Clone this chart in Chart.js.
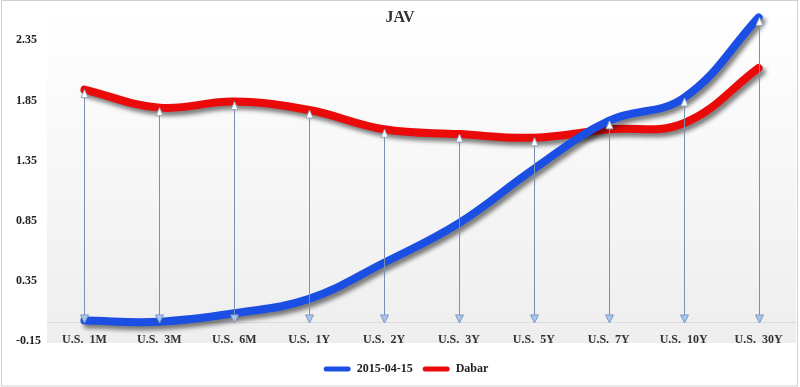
<!DOCTYPE html>
<html>
<head>
<meta charset="utf-8">
<script src="https://cdn.jsdelivr.net/npm/chart.js@4"></script>
<style>
  html,body{margin:0;padding:0;background:#fff;}
  #wrap{width:800px;height:387px;}
</style>
</head>
<body>
<div id="wrap"><canvas id="c" width="800" height="387"></canvas></div>
<script>
// data
const labels = ['U.S.  1M','U.S.  3M','U.S.  6M','U.S.  1Y','U.S.  2Y','U.S.  3Y','U.S.  5Y','U.S.  7Y','U.S.  10Y','U.S.  30Y'];
const series1Name = '2015-04-15';
const series1 = [0.02, 0.01, 0.08, 0.20, 0.50, 0.83, 1.28, 1.68, 1.87, 2.54];
const series2Name = 'Dabar';
const series2 = [1.94, 1.79, 1.84, 1.77, 1.61, 1.57, 1.54, 1.61, 1.66, 2.12];
const yTicks = [-0.15, 0.35, 0.85, 1.35, 1.85, 2.35];
const titleText = 'JAV';

const BLUE = '#1b4fe4', RED = '#ea0a0a';
const FONT = '"Liberation Serif","Times New Roman",serif';

// soft grey shadow under the thick lines
const shadowPlugin = {
  id:'lineShadow',
  beforeDatasetDraw(chart){ const ctx=chart.ctx; ctx.save(); ctx.shadowColor='rgba(0,0,0,0.5)'; ctx.shadowBlur=4; ctx.shadowOffsetX=3; ctx.shadowOffsetY=4; },
  afterDatasetDraw(chart){ chart.ctx.restore(); }
};

// plot background + outer frame + title
const bgPlugin = {
  id:'bg',
  beforeDraw(chart){
    const {ctx, chartArea:a} = chart;
    const bottom = chart.scales.y.getPixelForValue(yTicks[0]) + 2;
    ctx.save();
    const g = ctx.createLinearGradient(0,a.top,0,bottom);
    g.addColorStop(0,'#ffffff'); g.addColorStop(1,'#eeeeee');
    ctx.fillStyle=g; ctx.fillRect(a.left,a.top,a.right-a.left,bottom-a.top);
    ctx.restore();
  },
  afterDraw(chart){
    const ctx=chart.ctx; ctx.save();
    ctx.strokeStyle='#d0d0d0'; ctx.lineWidth=1; ctx.strokeRect(1.5,0.5,796,385.5);
    ctx.fillStyle='#333'; ctx.font='bold 16px '+FONT; ctx.textAlign='center'; ctx.textBaseline='middle';
    ctx.fillText(titleText, chart.width/2, 18);
    ctx.restore();
  }
};

// vertical arrows from 0 up to the higher of the two series
const arrowPlugin = {
  id:'arrows',
  afterDatasetsDraw(chart){
    const ctx=chart.ctx, x=chart.scales.x, y=chart.scales.y;
    const y0=y.getPixelForValue(0);
    ctx.save();
    labels.forEach((l,i)=>{
      const px=Math.round(x.getPixelForValue(i))+0.5;
      const top=y.getPixelForValue(Math.max(series1[i],series2[i]));
      ctx.strokeStyle='#7d8fae'; ctx.lineWidth=1;
      ctx.beginPath(); ctx.moveTo(px,top+2); ctx.lineTo(px,y0-2); ctx.stroke();
      // up head
      ctx.beginPath(); ctx.moveTo(px,top); ctx.lineTo(px-3.5,top+8); ctx.lineTo(px+3.5,top+8); ctx.closePath();
      ctx.fillStyle='#ffffff'; ctx.fill(); ctx.strokeStyle='#9aa8c0'; ctx.stroke();
      // down head
      ctx.beginPath(); ctx.moveTo(px,y0); ctx.lineTo(px-4,y0-8); ctx.lineTo(px+4,y0-8); ctx.closePath();
      ctx.fillStyle='#a9c6ec'; ctx.fill(); ctx.strokeStyle='#7d98c0'; ctx.stroke();
    });
    ctx.restore();
  }
};

new Chart(document.getElementById('c'), {
  type:'line',
  data:{ labels, datasets:[
    { label:series1Name, data:series1, borderColor:BLUE, backgroundColor:BLUE, borderWidth:8, pointRadius:0, tension:0.4, borderCapStyle:'round', borderJoinStyle:'round' },
    { label:series2Name, data:series2, borderColor:RED, backgroundColor:RED, borderWidth:8, pointRadius:0, tension:0.4, borderCapStyle:'round', borderJoinStyle:'round' }
  ]},
  options:{
    responsive:false, animation:false,
    layout:{ padding:{ left:16, right:4, top:5, bottom:2 } },
    plugins:{
      title:{ display:false },
      tooltip:{ enabled:false },
      legend:{ position:'bottom', labels:{
        font:{ family:FONT, size:12, weight:'bold' }, color:'#222', boxWidth:27, boxHeight:5, padding:10,
        useBorderRadius:true, borderRadius:2.5,
        generateLabels(chart){ return chart.data.datasets.map((d,i)=>({ text:d.label, fillStyle:d.borderColor, strokeStyle:d.borderColor, lineWidth:0, datasetIndex:i, fontColor:'#222', borderRadius:2.5 })); }
      }}
    },
    scales:{
      x:{ position:{ y:0 }, offset:true, grid:{ display:false }, border:{ display:true, color:'#dcdcdc' },
          ticks:{ font:{ family:FONT, size:12, weight:'bold' }, color:'#333', padding:2, maxRotation:0, autoSkip:false } },
      y:{ min:-0.25, max:2.6, grid:{ display:false }, border:{ display:false },
          afterBuildTicks(s){ s.ticks = yTicks.map(v=>({ value:v })); },
          afterFit(s){ s.width = 31; },
          ticks:{ crossAlign:'far', font:{ family:FONT, size:12, weight:'bold' }, color:'#222', callback:v=>Number(v).toFixed(2) } }
    }
  },
  plugins:[bgPlugin, shadowPlugin, arrowPlugin]
});
</script>
</body>
</html>
